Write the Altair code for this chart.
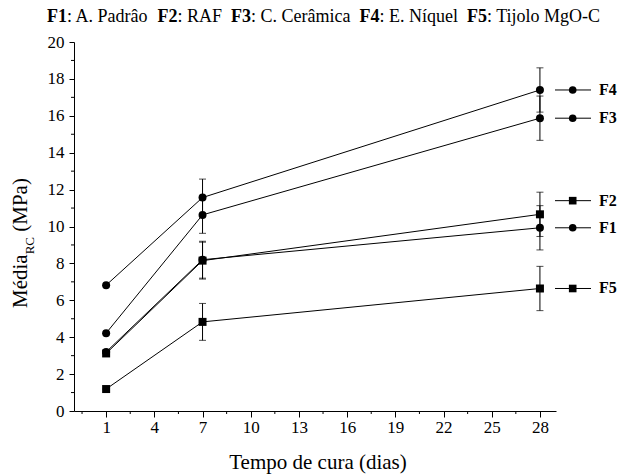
import altair as alt
import pandas as pd

# ---- data ----
days = [1, 7, 28]
series = ["F1", "F2", "F3", "F4", "F5"]
f1 = [3.2, 8.2, 9.93]
f2 = [3.12, 8.15, 10.66]
f3 = [4.22, 10.63, 15.87]
f4 = [6.82, 11.57, 17.4]
f5 = [1.19, 4.83, 6.64]
e1 = [0.0, 1.0, 1.2]
e2 = [0.0, 1.0, 1.2]
e3 = [0.0, 1.0, 1.2]
e4 = [0.0, 1.0, 1.2]
e5 = [0.0, 1.0, 1.2]
shapes = ["circle", "square", "circle", "circle", "square"]
label_y = [9.93, 11.4, 15.87, 17.4, 6.64]
x_major = [1, 4, 7, 10, 13, 16, 19, 22, 25, 28]
x_minor = [-0.5, 2.5, 5.5, 8.5, 11.5, 14.5, 17.5, 20.5, 23.5, 26.5]
y_major = [0, 2, 4, 6, 8, 10, 12, 14, 16, 18, 20]
y_minor = [1, 3, 5, 7, 9, 11, 13, 15, 17, 19]
title_parts = [("F1", True), (": A. Padrâo", False), ("F2", True), (": RAF", False),
               ("F3", True), (": C. Cerâmica", False), ("F4", True), (": E. Níquel", False),
               ("F5", True), (": Tijolo MgO-C", False)]
x_title = "Tempo de cura (dias)"
y_title = ["Média", "RC", "(MPa)"]

vals = [f1, f2, f3, f4, f5]
errs = [e1, e2, e3, e4, e5]
rows = []
for s, v, e in zip(series, vals, errs):
    for d, vv, ee in zip(days, v, e):
        rows.append({"series": s, "day": d, "value": vv, "lo": vv - ee, "hi": vv + ee})
df = pd.DataFrame(rows)
leg = pd.DataFrame({"series": series, "label_y": label_y})

FONT = "Times New Roman, Liberation Serif, serif"
W, H = 482, 369

xs = alt.Scale(domain=[-1, 29], nice=False, zero=False)
ys = alt.Scale(domain=[0, 20], nice=False, zero=False)
xaxis = alt.Axis(values=x_major, tickSize=6, labelPadding=2, title=None, grid=False,
                 labelFont=FONT, labelFontSize=17, labelColor="black",
                 domainColor="black", tickColor="black", domainWidth=1, tickWidth=1)
yaxis = alt.Axis(values=y_major, tickSize=5, labelPadding=5, title=None, grid=False,
                 labelFont=FONT, labelFontSize=17, labelColor="black",
                 domainColor="black", tickColor="black", domainWidth=1, tickWidth=1)
shape_enc = alt.Shape("series:N", scale=alt.Scale(domain=series, range=shapes), legend=None)

X = alt.X("day:Q", scale=xs, axis=xaxis)
Y = alt.Y("value:Q", scale=ys, axis=yaxis)

base = alt.Chart(df)
lines = base.mark_line(color="black", strokeWidth=1).encode(x=X, y=Y, detail="series:N")
bars = base.mark_rule(color="black", strokeWidth=1).encode(x=X, y=alt.Y("lo:Q", scale=ys, axis=yaxis), y2="hi:Q")
cap_lo = base.mark_tick(color="black", orient="horizontal", size=7, thickness=1).encode(
    x=X, y=alt.Y("lo:Q", scale=ys, axis=yaxis))
cap_hi = base.mark_tick(color="black", orient="horizontal", size=7, thickness=1).encode(
    x=X, y=alt.Y("hi:Q", scale=ys, axis=yaxis))
pts = base.mark_point(filled=True, color="black", opacity=1, size=64).encode(x=X, y=Y, shape=shape_enc)

# minor ticks
xmin = alt.Chart(pd.DataFrame({"x": x_minor})).mark_rule(color="black", strokeWidth=1).encode(
    x=alt.X("x:Q", scale=xs, axis=xaxis), y=alt.value(H), y2=alt.value(H + 3))
ymin = alt.Chart(pd.DataFrame({"y": y_minor})).mark_rule(color="black", strokeWidth=1).encode(
    y=alt.Y("y:Q", scale=ys, axis=yaxis), x=alt.value(-3), x2=alt.value(0))

# end-of-line legend
lb = alt.Chart(leg)
LY = alt.Y("label_y:Q", scale=ys, axis=yaxis)
leg_rule = lb.mark_rule(color="black", strokeWidth=1).encode(y=LY, x=alt.value(481), x2=alt.value(517))
leg_pt = lb.mark_point(filled=True, color="black", opacity=1, size=58).encode(
    y=LY, x=alt.value(498.7), shape=shape_enc)
leg_txt = lb.mark_text(font=FONT, fontSize=16, fontWeight="bold", align="left", baseline="middle",
                       color="black").encode(y=LY, x=alt.value(525), text="series:N")

layers = [lines, bars, cap_lo, cap_hi, pts, xmin, ymin, leg_rule, leg_pt, leg_txt]

# title pieces
TFS = 18
em = {"F1": 1.111, "F2": 1.111, "F3": 1.111, "F4": 1.111, "F5": 1.111,
      ": A. Padrâo": 4.527, ": RAF": 2.473, ": C. Cerâmica": 5.527, ": E. Níquel": 4.361,
      ": Tijolo MgO-C": 6.334}
cx = -27.0
for i, (txt, bold) in enumerate(title_parts):
    layers.append(alt.Chart(pd.DataFrame({"t": [txt]})).mark_text(
        font=FONT, fontSize=TFS, fontWeight="bold" if bold else "normal", align="left",
        baseline="alphabetic", color="black").encode(x=alt.value(cx), y=alt.value(-20), text="t:N"))
    cx += em[txt] * TFS
    if not bold:
        cx += 0.5 * TFS

# axis titles
layers.append(alt.Chart(pd.DataFrame({"t": [x_title]})).mark_text(
    font=FONT, fontSize=21, align="center", baseline="alphabetic", color="black").encode(
    x=alt.value(244), y=alt.value(427), text="t:N"))
AFS = 21
y0 = 266
layers.append(alt.Chart(pd.DataFrame({"t": [y_title[0]]})).mark_text(
    font=FONT, fontSize=AFS, angle=270, align="left", baseline="alphabetic", color="black").encode(
    x=alt.value(-47), y=alt.value(y0), text="t:N"))
y1 = y0 - 2.555 * AFS
layers.append(alt.Chart(pd.DataFrame({"t": [y_title[1]]})).mark_text(
    font=FONT, fontSize=13, angle=270, align="left", baseline="alphabetic", color="black").encode(
    x=alt.value(-40), y=alt.value(y1), text="t:N"))
y2 = y1 - 1.334 * 13 - 0.25 * AFS
layers.append(alt.Chart(pd.DataFrame({"t": [y_title[2]]})).mark_text(
    font=FONT, fontSize=AFS, angle=270, align="left", baseline="alphabetic", color="black").encode(
    x=alt.value(-47), y=alt.value(y2), text="t:N"))

chart = alt.layer(*layers).properties(
    width=W, height=H,
    autosize=alt.AutoSizeParams(type="none"),
    padding={"left": 74, "top": 42, "right": 64, "bottom": 63},
    background="white",
).configure_view(stroke=None)

chart.save("out.html", embed_options={"renderer": "svg", "actions": False})
